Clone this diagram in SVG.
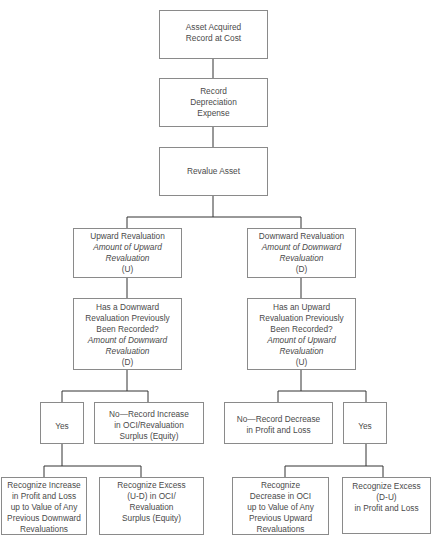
<svg xmlns="http://www.w3.org/2000/svg" width="432" height="538" viewBox="0 0 432 538">
<style>
.box{fill:#fff;stroke:#8a8a8a;stroke-width:1}
.con{fill:none;stroke:#333;stroke-width:1}
text{font-family:"Liberation Sans",Arial,sans-serif;font-size:8.3px;fill:#4a4a4a;text-anchor:middle}
.i{font-style:italic}
</style>
<rect width="432" height="538" fill="#fff"/>
<g id="connectors">
<path class="con" d="M213 58V78M213 127V147M213 195V217M127 217H301M127 217V228M301 217V228"/>
<path class="con" d="M127 277V298M301 277V298"/>
<path class="con" d="M127 369V391M62 391H148M62 391V402M148 391V402"/>
<path class="con" d="M301 369V391M278 391H366M278 391V402M366 391V402"/>
<path class="con" d="M62 443V466M44 466H141M44 466V477M141 466V477"/>
<path class="con" d="M366 443V466M285 466H383M285 466V477M383 466V477"/>
</g>
<g id="n1"><rect class="box" x="159.5" y="10.5" width="108" height="48"/>
<text x="213.5" y="30">Asset Acquired</text><text x="213.5" y="41">Record at Cost</text></g>
<g id="n2"><rect class="box" x="159.5" y="78.5" width="108" height="48"/>
<text x="213.5" y="94">Record</text><text x="213.5" y="105">Depreciation</text><text x="213.5" y="116">Expense</text></g>
<g id="n3"><rect class="box" x="159.5" y="147.5" width="108" height="48"/>
<text x="213.5" y="174">Revalue Asset</text></g>
<g id="n4"><rect class="box" x="73.5" y="228.5" width="108" height="49"/>
<text x="127.5" y="239">Upward Revaluation</text><text class="i" x="127.5" y="250">Amount of Upward</text><text class="i" x="127.5" y="261">Revaluation</text><text x="127.5" y="272">(U)</text></g>
<g id="n5"><rect class="box" x="247.5" y="228.5" width="108" height="49"/>
<text x="301.5" y="239">Downward Revaluation</text><text class="i" x="301.5" y="250">Amount of Downward</text><text class="i" x="301.5" y="261">Revaluation</text><text x="301.5" y="272">(D)</text></g>
<g id="n6"><rect class="box" x="73.5" y="298.5" width="108" height="71"/>
<text x="127.5" y="310">Has a Downward</text><text x="127.5" y="321">Revaluation Previously</text><text x="127.5" y="332">Been Recorded?</text><text class="i" x="127.5" y="343">Amount of Downward</text><text class="i" x="127.5" y="354">Revaluation</text><text x="127.5" y="365">(D)</text></g>
<g id="n7"><rect class="box" x="247.5" y="298.5" width="108" height="71"/>
<text x="301.5" y="310">Has an Upward</text><text x="301.5" y="321">Revaluation Previously</text><text x="301.5" y="332">Been Recorded?</text><text class="i" x="301.5" y="343">Amount of Upward</text><text class="i" x="301.5" y="354">Revaluation</text><text x="301.5" y="365">(U)</text></g>
<g id="n8"><rect class="box" x="40.5" y="402.5" width="43" height="41"/>
<text x="62" y="429">Yes</text></g>
<g id="n9"><rect class="box" x="94.5" y="402.5" width="109" height="41"/>
<text x="149" y="417">No—Record Increase</text><text x="149" y="428">in OCI/Revaluation</text><text x="149" y="439">Surplus (Equity)</text></g>
<g id="n10"><rect class="box" x="224.5" y="402.5" width="108" height="41"/>
<text x="278.5" y="422">No—Record Decrease</text><text x="278.5" y="433">in Profit and Loss</text></g>
<g id="n11"><rect class="box" x="343.5" y="402.5" width="43" height="41"/>
<text x="365" y="429">Yes</text></g>
<g id="n12"><rect class="box" x="1.5" y="477.5" width="85" height="57"/>
<text x="44" y="488">Recognize Increase</text><text x="44" y="499">in Profit and Loss</text><text x="44" y="510">up to Value of Any</text><text x="44" y="521">Previous Downward</text><text x="44" y="532">Revaluations</text></g>
<g id="n13"><rect class="box" x="99.5" y="477.5" width="104" height="57"/>
<text x="151.5" y="488">Recognize Excess</text><text x="151.5" y="499">(U-D) in OCI/</text><text x="151.5" y="510">Revaluation</text><text x="151.5" y="521">Surplus (Equity)</text></g>
<g id="n14"><rect class="box" x="232.5" y="477.5" width="96" height="57"/>
<text x="280.5" y="488">Recognize</text><text x="280.5" y="499">Decrease in OCI</text><text x="280.5" y="510">up to Value of Any</text><text x="280.5" y="521">Previous Upward</text><text x="280.5" y="532">Revaluations</text></g>
<g id="n15"><rect class="box" x="342.5" y="477.5" width="88" height="56"/>
<text x="386.5" y="489">Recognize Excess</text><text x="386.5" y="500">(D-U)</text><text x="386.5" y="511">in Profit and Loss</text></g>
</svg>
